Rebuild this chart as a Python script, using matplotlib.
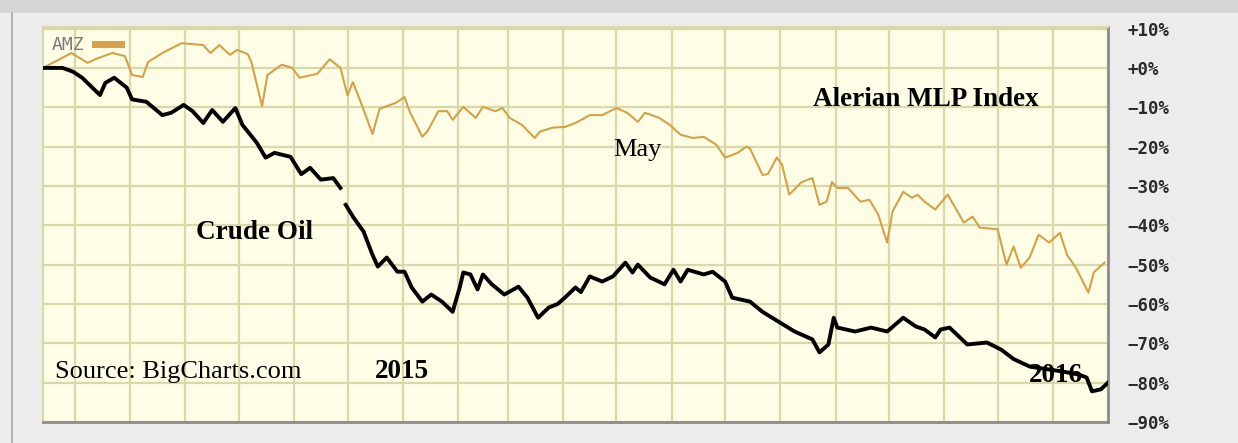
import numpy as np
import pandas as pd
import matplotlib
matplotlib.use("Agg")
import matplotlib.pyplot as plt
import matplotlib.dates as mdates
from matplotlib.patches import Rectangle
from matplotlib.lines import Line2D

# percent change since mid-June 2014
oil_dates = [
    "2014-06-14", "2014-06-24", "2014-06-30", "2014-07-05", "2014-07-15", "2014-07-18",
    "2014-07-23", "2014-07-30", "2014-08-02", "2014-08-10", "2014-08-19", "2014-08-24",
    "2014-08-31", "2014-09-05", "2014-09-11", "2014-09-16", "2014-09-22", "2014-09-29",
    "2014-10-03", "2014-10-11", "2014-10-16", "2014-10-21", "2014-10-30", "2014-11-05",
    "2014-11-10", "2014-11-16", "2014-11-23", "2014-11-27", "2014-11-28", "2014-11-30",
    "2014-12-04", "2014-12-10", "2014-12-15", "2014-12-18", "2014-12-23", "2014-12-29",
    "2015-01-02", "2015-01-06", "2015-01-12", "2015-01-17", "2015-01-23", "2015-01-29",
    "2015-02-02", "2015-02-04", "2015-02-08", "2015-02-12", "2015-02-15", "2015-02-20",
    "2015-02-27", "2015-03-07", "2015-03-12", "2015-03-18", "2015-03-24", "2015-03-29",
    "2015-04-02", "2015-04-08", "2015-04-11", "2015-04-16", "2015-04-23", "2015-04-29",
    "2015-05-06", "2015-05-10", "2015-05-13", "2015-05-20", "2015-05-28", "2015-06-02",
    "2015-06-06", "2015-06-10", "2015-06-19", "2015-06-24", "2015-07-01", "2015-07-05",
    "2015-07-15", "2015-07-22", "2015-07-31", "2015-08-09", "2015-08-19", "2015-08-23",
    "2015-08-28", "2015-08-31", "2015-09-02", "2015-09-12", "2015-09-21", "2015-09-30",
    "2015-10-09", "2015-10-16", "2015-10-21", "2015-10-27", "2015-10-30", "2015-11-04",
    "2015-11-14", "2015-11-25", "2015-12-03", "2015-12-10", "2015-12-19", "2015-12-29",
    "2016-01-07", "2016-01-16", "2016-01-20", "2016-01-23", "2016-01-28", "2016-02-01",
]
oil_pct = [
    0, 0, -1, -2.5, -6.9, -3.8,
    -2.5, -5, -8, -8.6, -12, -11.4,
    -9.4, -11, -14, -10.7, -13.7, -10.2,
    -14.5, -19, -22.8, -21.6, -22.6, -27,
    -25.4, -28.4, -28, -30.5, np.nan, -34.8,
    -37.8, -41.6, -47.5, -50.5, -48.2, -51.8,
    -51.8, -55.8, -59.4, -57.6, -59.4, -62,
    -55.8, -52, -52.5, -56.3, -52.5, -55,
    -57.6, -55.6, -58.4, -63.5, -60.9, -60,
    -58.4, -55.8, -57, -53, -54.3, -53,
    -49.5, -52, -50, -53.3, -55, -51.3,
    -54.3, -51.3, -52.5, -51.8, -54.3, -58.4,
    -59.4, -62, -64.5, -67, -69, -72.3,
    -70.3, -63.5, -66, -67, -66, -67,
    -63.5, -65.7, -66.5, -68.5, -66.5, -66,
    -70.3, -69.8, -71.6, -74, -75.9, -76.6,
    -77.2, -78, -78.7, -82.2, -81.7, -80,
]

amz_dates = [
    "2014-06-13", "2014-06-29", "2014-07-08", "2014-07-14", "2014-07-22", "2014-07-29",
    "2014-08-02", "2014-08-08", "2014-08-11", "2014-08-19", "2014-08-30", "2014-09-11",
    "2014-09-15", "2014-09-20", "2014-09-26", "2014-09-30", "2014-10-06", "2014-10-08",
    "2014-10-14", "2014-10-17", "2014-10-25", "2014-10-31", "2014-11-04", "2014-11-14",
    "2014-11-21", "2014-11-27", "2014-12-01", "2014-12-04", "2014-12-09", "2014-12-15",
    "2014-12-19", "2014-12-28", "2015-01-02", "2015-01-05", "2015-01-12", "2015-01-15",
    "2015-01-21", "2015-01-26", "2015-01-29", "2015-02-04", "2015-02-11", "2015-02-15",
    "2015-02-22", "2015-02-26", "2015-03-02", "2015-03-09", "2015-03-16", "2015-03-19",
    "2015-03-26", "2015-04-02", "2015-04-08", "2015-04-16", "2015-04-23", "2015-05-01",
    "2015-05-07", "2015-05-13", "2015-05-17", "2015-05-25", "2015-05-31", "2015-06-06",
    "2015-06-13", "2015-06-19", "2015-06-26", "2015-07-01", "2015-07-08", "2015-07-13",
    "2015-07-15", "2015-07-22", "2015-07-25", "2015-07-30", "2015-08-02", "2015-08-06",
    "2015-08-13", "2015-08-19", "2015-08-23", "2015-08-27", "2015-08-30", "2015-09-02",
    "2015-09-08", "2015-09-15", "2015-09-20", "2015-09-25", "2015-09-30", "2015-10-03",
    "2015-10-09", "2015-10-14", "2015-10-17", "2015-10-21", "2015-10-27", "2015-11-03",
    "2015-11-12", "2015-11-17", "2015-11-21", "2015-12-01", "2015-12-06", "2015-12-10",
    "2015-12-14", "2015-12-19", "2015-12-24", "2015-12-30", "2016-01-05", "2016-01-09",
    "2016-01-14", "2016-01-21", "2016-01-24", "2016-01-30",
]
amz_pct = [
    0, 3.8, 1.3, 2.5, 3.8, 3,
    -1.8, -2.3, 1.5, 3.8, 6.3, 5.8,
    3.8, 5.8, 3.3, 4.6, 3.5, 1.5,
    -9.7, -1.8, 0.8, 0, -2.5, -1.5,
    2.2, 0, -7, -3.6, -9.4, -16.8,
    -10.4, -8.9, -7.4, -11.2, -17.5, -16,
    -11, -11, -13.2, -9.9, -12.7, -9.9,
    -11, -10.2, -12.7, -14.5, -17.8, -16.2,
    -15.2, -15, -14, -12, -12, -10.2,
    -11.4, -13.7, -11.4, -12.7, -14.5, -17,
    -17.8, -17.5, -19.5, -22.8, -21.6, -20,
    -20.5, -27.2, -27, -22.8, -24.6, -32.2,
    -29, -28, -34.8, -34, -29, -30.5,
    -30.5, -34, -33.5, -37.3, -44.4, -36.5,
    -31.5, -33, -32.2, -34, -36, -32.2,
    -39.3, -37.8, -40.6, -41, -50, -45.4,
    -50.8, -48.2, -42.4, -44.4, -41.9, -47.5,
    -50.8, -57.1, -52, -49.5,
]

y_ticks = [10, 0, -10, -20, -30, -40, -50, -60, -70, -80, -90]

W, H = 1238, 443
bg = "#ececec"
plot_bg = "#fefee6"
grid_c = "#d8d8a8"
amz_c = "#d6a046"

fig = plt.figure(figsize=(W / 100, H / 100), dpi=100, facecolor=bg)


def px(x, y):
    # image pixel (from top-left) -> figure fraction
    return x / W, 1 - y / H


# header strip and left border of the original page
fig.patches.append(Rectangle((0, 1 - 13 / H), 1, 13 / H, transform=fig.transFigure,
                             facecolor="#d5d5d5", edgecolor="none", zorder=0))
fig.lines.append(Line2D([12 / W, 12 / W], [0, 1 - 13 / H], transform=fig.transFigure,
                        color="#a8a8a8", lw=1.2))

left, right, top, bottom = 43, 1108, 27, 422
ax = fig.add_axes([left / W, 1 - bottom / H, (right - left) / W, (bottom - top) / H])
ax.set_facecolor(plot_bg)

oil = pd.Series(oil_pct, index=pd.to_datetime(oil_dates))
amz = pd.Series(amz_pct, index=pd.to_datetime(amz_dates))

ax.plot(amz.index, amz.values, color=amz_c, lw=1.5, zorder=3)
ax.plot(oil.index, oil.values, color="black", lw=2.8, zorder=4)

ax.set_xlim(pd.Timestamp("2014-06-13"), pd.Timestamp("2016-02-01"))
ax.set_ylim(-89.9, 10.4)

ax.xaxis.set_major_locator(mdates.MonthLocator())
ax.set_xticklabels([])
ax.tick_params(axis="x", length=0)
ax.grid(True, color=grid_c, lw=1.6, zorder=1)
ax.set_axisbelow(True)

ax.yaxis.tick_right()
ax.set_yticks(y_ticks)
ax.set_yticklabels([("+%d%%" % v) if v >= 0 else ("\u2212%d%%" % -v) for v in y_ticks],
                   family="DejaVu Sans Mono", fontsize=12.5, fontweight="bold",
                   color="#2a2a2a")
ax.tick_params(axis="y", length=0, pad=14)

for side in ("left", "top"):
    ax.spines[side].set_color(grid_c)
    ax.spines[side].set_linewidth(1.5)
for side in ("right", "bottom"):
    ax.spines[side].set_color("#8c8c8c")
    ax.spines[side].set_linewidth(2)

# AMZ legend in the corner
leg = ax.legend([Line2D([], [], color=amz_c, lw=5)], ["AMZ"], loc="upper left",
                frameon=False, markerfirst=False, handlelength=1.4, handletextpad=0.6,
                borderaxespad=0.1, prop={"family": "DejaVu Sans Mono", "size": 13})
leg.get_texts()[0].set_color("#7a7a7a")

serif = ["Liberation Serif", "DejaVu Serif"]
fig.text(*px(926, 100), "Alerian MLP Index", family=serif, fontsize=19.5,
         fontweight="bold", ha="center", va="center")
fig.text(*px(254, 233), "Crude Oil", family=serif, fontsize=19.5,
         fontweight="bold", ha="center", va="center")
fig.text(*px(637, 150), "May", family=serif, fontsize=19, ha="center", va="center")
fig.text(*px(55, 372), "Source: BigCharts.com", family=serif, fontsize=19,
         ha="left", va="center")
fig.text(*px(402, 372), "2015", family=serif, fontsize=19.5, fontweight="bold",
         ha="center", va="center")
fig.text(*px(1056, 375), "2016", family=serif, fontsize=19.5, fontweight="bold",
         ha="center", va="center")

fig.savefig("out.png", dpi=100, facecolor=bg)
